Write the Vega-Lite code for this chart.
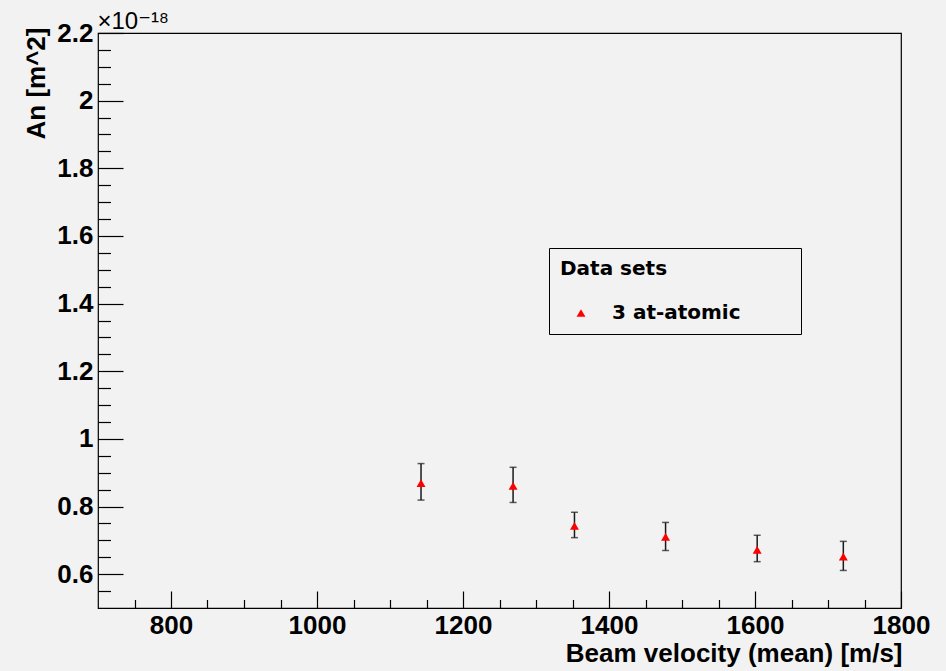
{
  "$schema": "https://vega.github.io/schema/vega-lite/v6.json",
  "width": 803,
  "height": 575,
  "autosize": {"type": "none"},
  "padding": {"left": 98, "top": 33, "right": 45, "bottom": 63},
  "background": "#f2f2f2",
  "config": {
    "view": {"stroke": "#000000", "strokeWidth": 1.2, "fill": "#f2f2f2"},
    "axis": {"domain": false, "grid": false, "tickColor": "#000000", "tickWidth": 1.2, "labelColor": "#000000", "titleColor": "#000000", "labelFont": "Liberation Sans", "titleFont": "Liberation Sans", "labelFlush": false, "labelOverlap": false, "labelBound": false},
    "font": "Liberation Sans"
  },
  "data": {
    "values": [
      {"velocity": 1142.5, "an": 0.869, "an_lo": 0.819, "an_hi": 0.927, "series": "3 at-atomic"},
      {"velocity": 1268.6, "an": 0.861, "an_lo": 0.812, "an_hi": 0.916, "series": "3 at-atomic"},
      {"velocity": 1352.7, "an": 0.743, "an_lo": 0.708, "an_hi": 0.783, "series": "3 at-atomic"},
      {"velocity": 1477.5, "an": 0.710, "an_lo": 0.670, "an_hi": 0.753, "series": "3 at-atomic"},
      {"velocity": 1603.0, "an": 0.672, "an_lo": 0.637, "an_hi": 0.715, "series": "3 at-atomic"},
      {"velocity": 1721.0, "an": 0.652, "an_lo": 0.611, "an_hi": 0.697, "series": "3 at-atomic"}
    ]
  },
  "layer": [
    {
      "mark": {"type": "rule", "color": "#1a1a1a", "strokeWidth": 1.5},
      "encoding": {
        "x": {
          "field": "velocity", "type": "quantitative",
          "scale": {"domain": [700, 1800], "nice": false, "zero": false},
          "axis": {
            "orient": "bottom",
            "values": [800, 1000, 1200, 1400, 1600, 1800],
            "format": "d",
            "tickSize": -17,
            "labelPadding": 21,
            "labelFontSize": 26,
            "labelFontWeight": "bold",
            "title": "Beam velocity (mean) [m/s]",
            "titleFontSize": 26,
            "titleFontWeight": "bold",
            "titleAnchor": "end",
            "titleAlign": "right",
            "titleBaseline": "alphabetic",
            "titleX": 804,
            "titleY": 53
          }
        },
        "y": {
          "field": "an_lo", "type": "quantitative",
          "scale": {"domain": [0.5, 2.2], "nice": false, "zero": false},
          "axis": {
            "orient": "left",
            "values": [0.6, 0.8, 1, 1.2, 1.4, 1.6, 1.8, 2, 2.2],
            "format": "~g",
            "tickSize": -25,
            "labelPadding": 30,
            "labelFontSize": 26,
            "labelFontWeight": "bold",
            "title": "An [m^2]",
            "titleFontSize": 26,
            "titleFontWeight": "bold",
            "titleAngle": -90,
            "titleAnchor": "end",
            "titleAlign": "right",
            "titleBaseline": "alphabetic",
            "titleX": -54,
            "titleY": -6
          }
        },
        "y2": {"field": "an_hi"}
      }
    },
    {
      "mark": {"type": "tick", "orient": "horizontal", "size": 7, "thickness": 1.5, "color": "#1a1a1a"},
      "encoding": {
        "x": {
          "field": "velocity", "type": "quantitative",
          "scale": {"domain": [700, 1800], "nice": false, "zero": false},
          "axis": {
            "orient": "bottom",
            "values": [750, 850, 900, 950, 1050, 1100, 1150, 1250, 1300, 1350, 1450, 1500, 1550, 1650, 1700, 1750],
            "tickSize": -8.5,
            "labels": false,
            "title": null
          }
        },
        "y": {
          "field": "an_lo", "type": "quantitative",
          "scale": {"domain": [0.5, 2.2], "nice": false, "zero": false},
          "axis": {
            "orient": "left",
            "values": [0.55, 0.65, 0.7, 0.75, 0.85, 0.9, 0.95, 1.05, 1.1, 1.15, 1.25, 1.3, 1.35, 1.45, 1.5, 1.55, 1.65, 1.7, 1.75, 1.85, 1.9, 1.95, 2.05, 2.1, 2.15],
            "tickSize": -12.5,
            "labels": false,
            "title": "×10⁻¹⁸",
            "titleFont": "Liberation Sans, DejaVu Sans",
            "titleFontSize": 24,
            "titleFontWeight": "normal",
            "titleAngle": 0,
            "titleAlign": "left",
            "titleBaseline": "alphabetic",
            "titleX": -1,
            "titleY": -5
          }
        }
      }
    },
    {
      "mark": {"type": "tick", "orient": "horizontal", "size": 7, "thickness": 1.5, "color": "#1a1a1a"},
      "encoding": {
        "x": {"field": "velocity", "type": "quantitative", "scale": {"domain": [700, 1800], "nice": false, "zero": false}, "axis": null},
        "y": {"field": "an_hi", "type": "quantitative", "scale": {"domain": [0.5, 2.2], "nice": false, "zero": false}, "axis": null}
      }
    },
    {
      "mark": {"type": "point", "shape": "triangle-up", "filled": true, "size": 80, "opacity": 1},
      "encoding": {
        "x": {"field": "velocity", "type": "quantitative", "scale": {"domain": [700, 1800], "nice": false, "zero": false}, "axis": null},
        "y": {"field": "an", "type": "quantitative", "scale": {"domain": [0.5, 2.2], "nice": false, "zero": false}, "axis": null},
        "color": {
          "field": "series", "type": "nominal",
          "scale": {"range": ["#ff0000"]},
          "legend": {
            "orient": "none",
            "legendX": 451,
            "legendY": 215,
            "title": "Data sets",
            "titleFont": "DejaVu Sans",
            "titleFontSize": 20,
            "titleFontWeight": "bold",
            "titleColor": "#000000",
            "titlePadding": 24,
            "labelFont": "DejaVu Sans",
            "labelFontSize": 20,
            "labelFontWeight": "bold",
            "labelColor": "#000000",
            "labelLimit": 400,
            "labelExpr": "datum.label + '\u00a0\u00a0\u00a0\u00a0\u00a0\u00a0\u00a0\u200b'",
            "padding": 11,
            "strokeColor": "#000000",
            "fillColor": "#f2f2f2",
            "symbolSize": 80,
            "symbolType": "triangle-up",
            "symbolOffset": 11,
            "labelOffset": 21,
            "symbolStrokeWidth": 0
          }
        }
      }
    }
  ],
  "resolve": {"axis": {"x": "independent", "y": "independent"}}
}
